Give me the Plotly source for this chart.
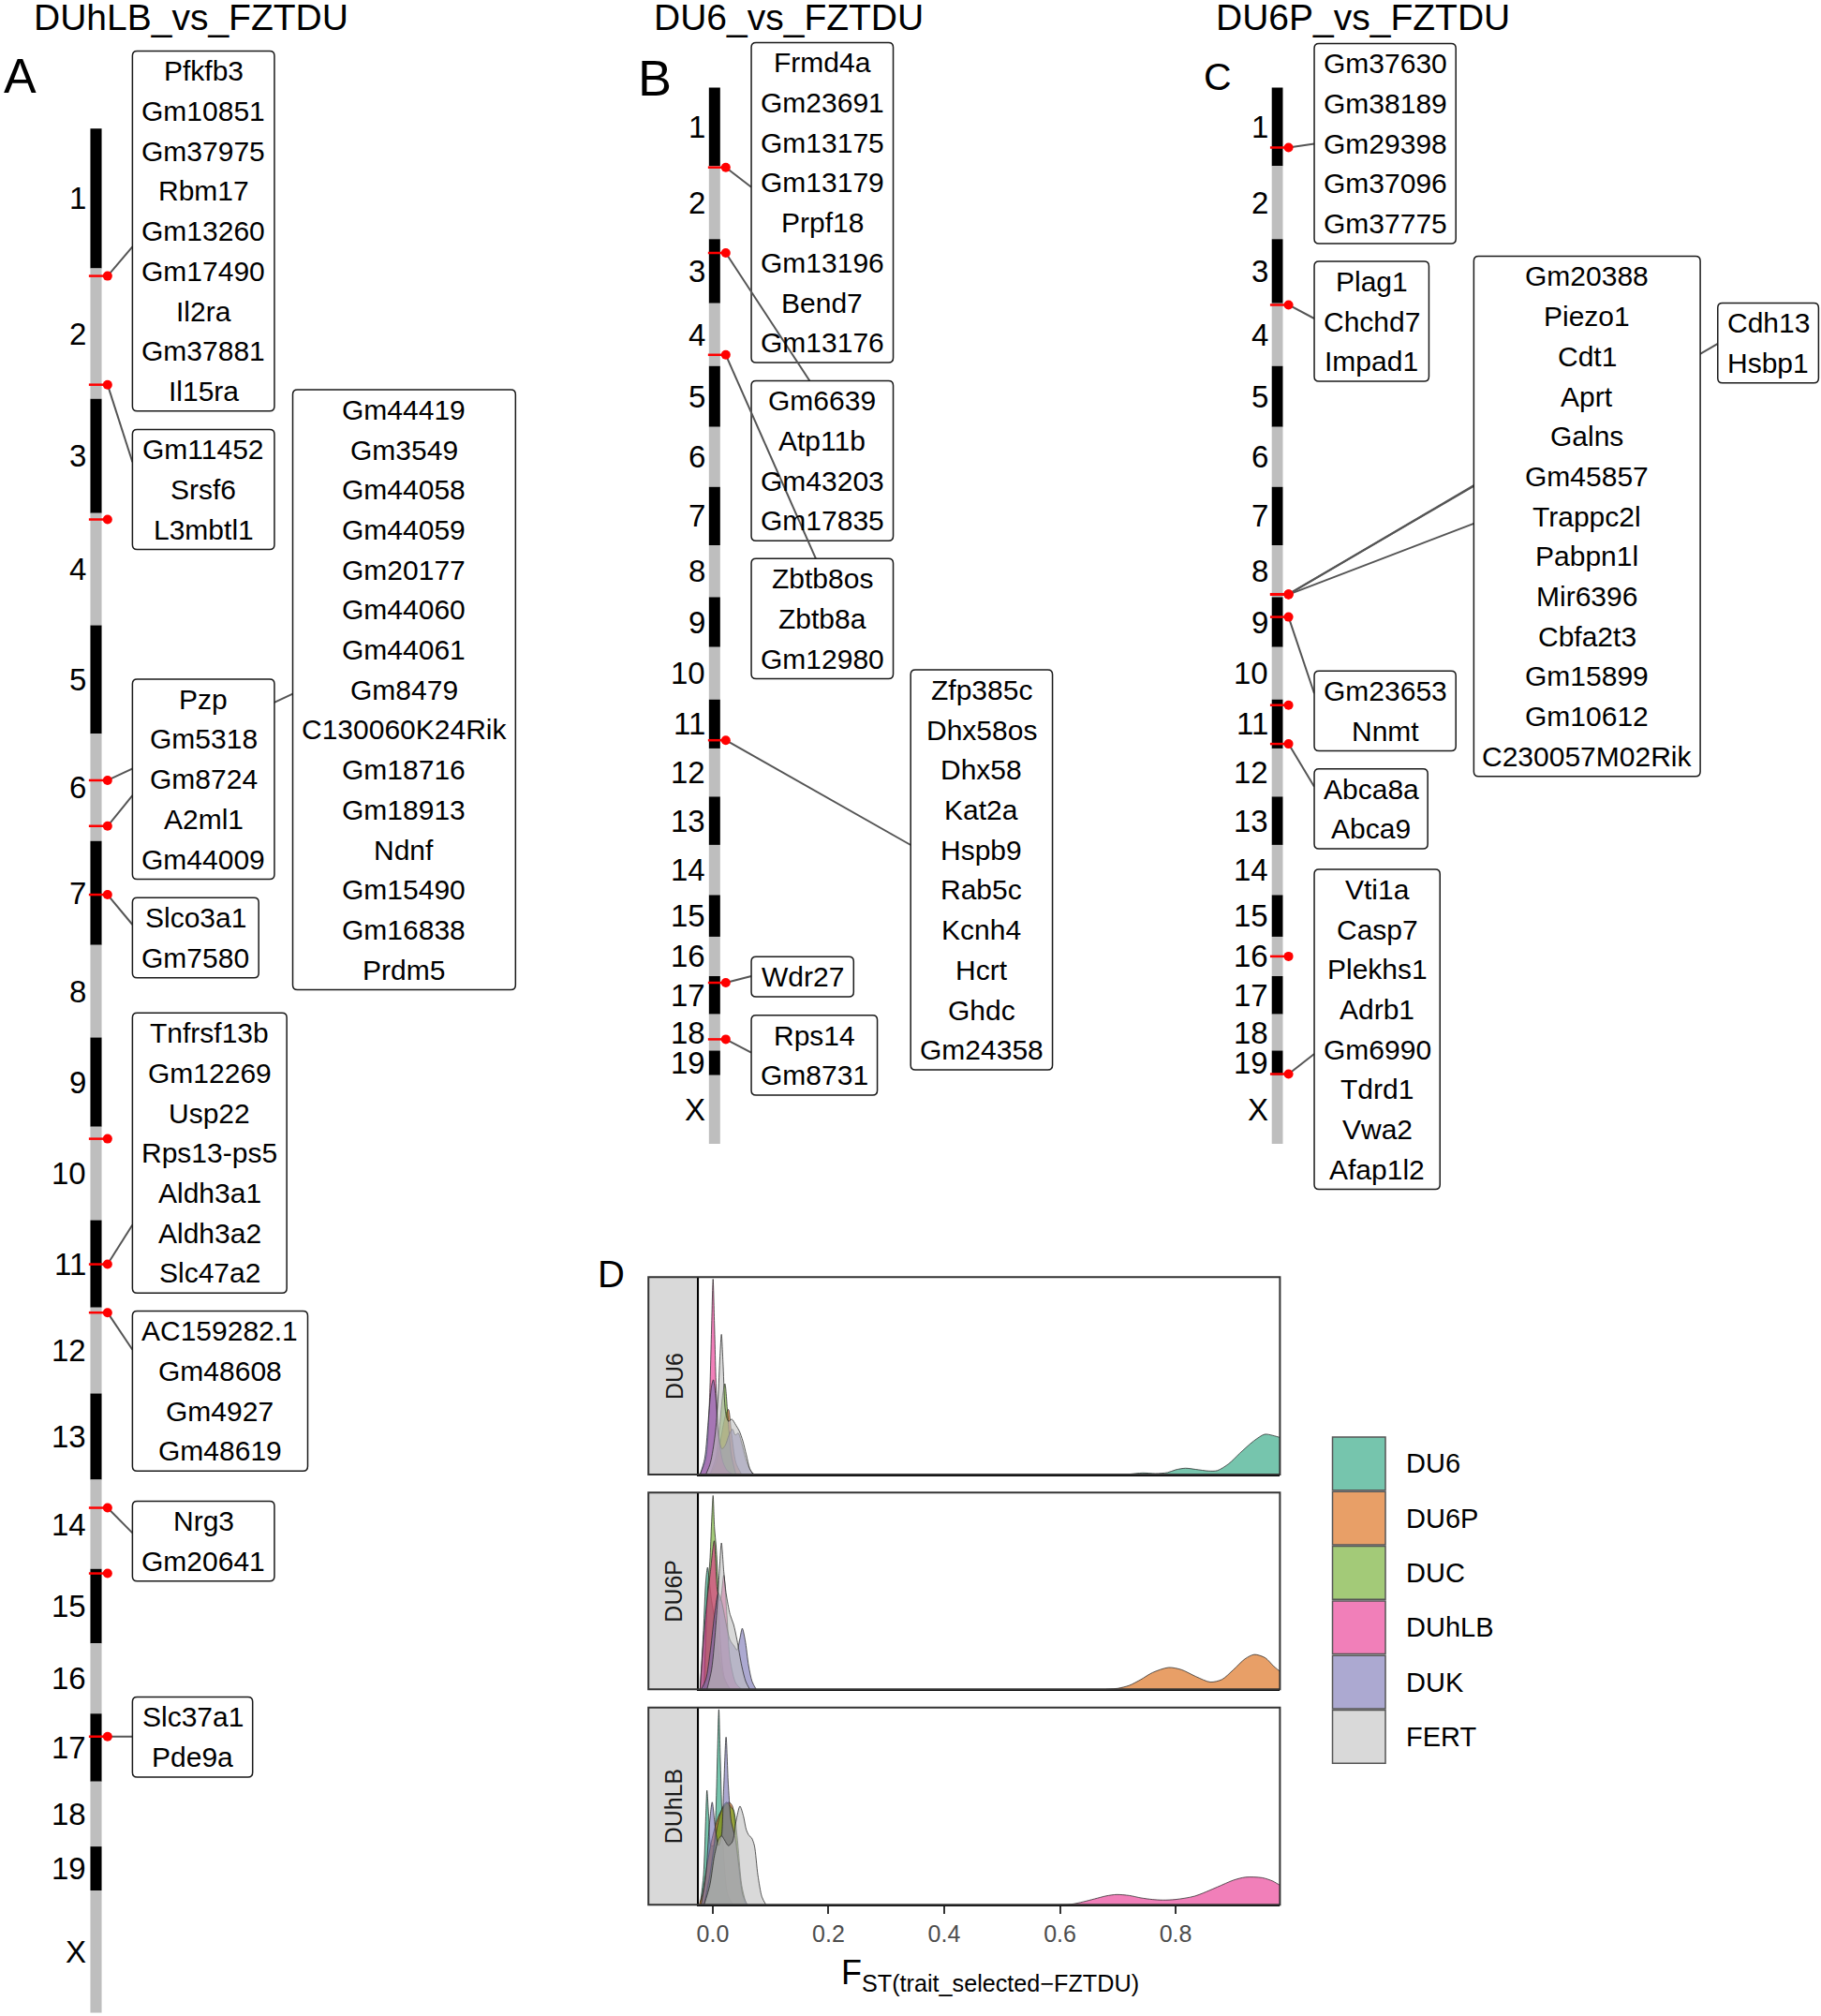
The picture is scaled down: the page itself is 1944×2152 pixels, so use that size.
import plotly.graph_objects as go

W, H = 1944, 2152

# ======================= DATA =======================
CHROM_NAMES = [str(i) for i in range(1, 20)] + ["X"]
CHROM_LEN_MB = [195.47, 182.11, 160.04, 156.51, 151.83, 149.74, 145.44, 129.40, 124.60, 130.69,
                122.08, 120.13, 120.42, 124.90, 104.04, 98.21, 94.99, 90.70, 61.43, 171.03]

# Panel A  DUhLB_vs_FZTDU : selection signatures (chromosome, position in Mb)
A_MARK_CHR = ["2", "2", "4", "6", "6", "7", "10", "11", "12", "14", "15", "17"]
A_MARK_MB = [10.5, 162.5, 8.7, 65.0, 128.9, 75.1, 16.9, 61.6, 7.1, 39.4, 6.2, 32.0]
A_GENE_GROUPS = [
    ["Pfkfb3", "Gm10851", "Gm37975", "Rbm17", "Gm13260", "Gm17490", "Il2ra", "Gm37881", "Il15ra"],
    ["Gm11452", "Srsf6", "L3mbtl1"],
    ["Gm44419", "Gm3549", "Gm44058", "Gm44059", "Gm20177", "Gm44060", "Gm44061", "Gm8479",
     "C130060K24Rik", "Gm18716", "Gm18913", "Ndnf", "Gm15490", "Gm16838", "Prdm5"],
    ["Pzp", "Gm5318", "Gm8724", "A2ml1", "Gm44009"],
    ["Slco3a1", "Gm7580"],
    ["Tnfrsf13b", "Gm12269", "Usp22", "Rps13-ps5", "Aldh3a1", "Aldh3a2", "Slc47a2"],
    ["AC159282.1", "Gm48608", "Gm4927", "Gm48619"],
    ["Nrg3", "Gm20641"],
    ["Slc37a1", "Pde9a"],
]
A_GROUP_MARK = [[0], [1], [3], [4], [5], [7], [8], [9], [11]]

# Panel B  DU6_vs_FZTDU
B_MARK_CHR = ["2", "3", "4", "11", "17", "18"]
B_MARK_MB = [3.5, 34.7, 128.8, 101.6, 16.4, 62.5]
B_GENE_GROUPS = [
    ["Frmd4a", "Gm23691", "Gm13175", "Gm13179", "Prpf18", "Gm13196", "Bend7", "Gm13176"],
    ["Gm6639", "Atp11b", "Gm43203", "Gm17835"],
    ["Zbtb8os", "Zbtb8a", "Gm12980"],
    ["Zfp385c", "Dhx58os", "Dhx58", "Kat2a", "Hspb9", "Rab5c", "Kcnh4", "Hcrt", "Ghdc", "Gm24358"],
    ["Wdr27"],
    ["Rps14", "Gm8731"],
]
B_GROUP_MARK = [[0], [1], [2], [3], [4], [5]]

# Panel C  DU6P_vs_FZTDU
C_MARK_CHR = ["1", "4", "8", "8", "8", "9", "11", "11", "16", "19"]
C_MARK_MB = [149.5, 4.3, 121.9, 122.4, 122.9, 49.5, 14.0, 110.7, 48.9, 58.4]
C_GENE_GROUPS = [
    ["Gm37630", "Gm38189", "Gm29398", "Gm37096", "Gm37775"],
    ["Plag1", "Chchd7", "Impad1"],
    ["Cdh13", "Hsbp1"],
    ["Gm20388", "Piezo1", "Cdt1", "Aprt", "Galns", "Gm45857", "Trappc2l", "Pabpn1l", "Mir6396",
     "Cbfa2t3", "Gm15899", "Gm10612", "C230057M02Rik"],
    ["Gm23653", "Nnmt"],
    ["Abca8a", "Abca9"],
    ["Vti1a", "Casp7", "Plekhs1", "Adrb1", "Gm6990", "Tdrd1", "Vwa2", "Afap1l2"],
]
C_GROUP_MARK = [[0], [1], [2], [3, 4], [5], [7], [9]]

# Panel D  FST density per facet (x = FST, y = relative density)
GROUPS = ["DU6", "DU6P", "DUC", "DUhLB", "DUK", "FERT"]
FACETS = ["DU6", "DU6P", "DUhLB"]

F1_DU6_X = [0.70, 0.72, 0.743, 0.765, 0.786, 0.80, 0.817, 0.835, 0.857, 0.872, 0.892, 0.911, 0.935, 0.954, 0.968, 0.98, 0.99]
F1_DU6_Y = [0.0, 0.002, 0.008, 0.005, 0.01, 0.024, 0.032, 0.026, 0.018, 0.02, 0.055, 0.108, 0.17, 0.204, 0.198, 0.188, 0.18]
F1_DU6P_X = [-0.005, 0.005, 0.015, 0.022, 0.027, 0.032, 0.04, 0.05]
F1_DU6P_Y = [0, 0.05, 0.2, 0.3, 0.33, 0.22, 0.06, 0]
F1_DUC_X = [-0.005, 0.005, 0.012, 0.017, 0.021, 0.026, 0.032, 0.04]
F1_DUC_Y = [0, 0.08, 0.25, 0.4, 0.46, 0.3, 0.1, 0]
F1_DUHLB_X = [-0.022, -0.012, -0.006, -0.002, 0.0005, 0.003, 0.007, 0.012, 0.018, 0.025, 0.035]
F1_DUHLB_Y = [0, 0.08, 0.35, 0.75, 0.99, 0.75, 0.35, 0.15, 0.06, 0.02, 0]
F1_DUK_X = [-0.022, -0.014, -0.007, -0.002, 0.001, 0.005, 0.01, 0.016, 0.022, 0.028, 0.034, 0.039, 0.044, 0.05, 0.057, 0.065, 0.072]
F1_DUK_Y = [0, 0.08, 0.3, 0.45, 0.48, 0.4, 0.2, 0.13, 0.15, 0.2, 0.23, 0.2, 0.21, 0.16, 0.08, 0.02, 0]
F1_FERT_X = [-0.012, -0.004, 0.004, 0.009, 0.0125, 0.015, 0.018, 0.022, 0.027, 0.033, 0.04, 0.046, 0.052, 0.058, 0.064, 0.07]
F1_FERT_Y = [0, 0.06, 0.2, 0.38, 0.6, 0.71, 0.55, 0.32, 0.27, 0.28, 0.25, 0.22, 0.17, 0.1, 0.03, 0]

F2_DU6_X = [-0.022, -0.016, -0.012, -0.009, -0.006, -0.002, 0.004, 0.012, 0.02, 0.03]
F2_DU6_Y = [0, 0.3, 0.55, 0.62, 0.55, 0.45, 0.35, 0.15, 0.05, 0]
F2_DU6P_X = [0.68, 0.70, 0.72, 0.74, 0.76, 0.788, 0.81, 0.835, 0.86, 0.88, 0.90, 0.92, 0.936, 0.955, 0.97, 0.98, 0.99]
F2_DU6P_Y = [0, 0.005, 0.02, 0.05, 0.085, 0.111, 0.1, 0.065, 0.037, 0.05, 0.1, 0.155, 0.177, 0.16, 0.116, 0.092, 0.07]
F2_DUC_X = [-0.015, -0.009, -0.005, -0.002, 0.0005, 0.003, 0.006, 0.009, 0.013, 0.02, 0.03]
F2_DUC_Y = [0, 0.5, 0.65, 0.85, 0.985, 0.82, 0.72, 0.55, 0.25, 0.06, 0]
F2_DUHLB_X = [-0.022, -0.016, -0.01, -0.004, 0.0025, 0.008, 0.013, 0.019, 0.024, 0.03, 0.04, 0.05]
F2_DUHLB_Y = [0, 0.25, 0.45, 0.6, 0.755, 0.5, 0.45, 0.58, 0.4, 0.15, 0.03, 0]
F2_DUK_X = [-0.02, -0.012, -0.004, 0.004, 0.0096, 0.015, 0.022, 0.03, 0.037, 0.042, 0.047, 0.051, 0.056, 0.062, 0.068, 0.075]
F2_DUK_Y = [0, 0.05, 0.2, 0.4, 0.49, 0.45, 0.35, 0.25, 0.22, 0.2, 0.26, 0.31, 0.25, 0.12, 0.04, 0]
F2_FERT_X = [-0.01, -0.002, 0.006, 0.011, 0.015, 0.019, 0.023, 0.03, 0.036, 0.042, 0.05, 0.057, 0.064]
F2_FERT_Y = [0, 0.1, 0.35, 0.58, 0.744, 0.6, 0.49, 0.38, 0.33, 0.25, 0.12, 0.04, 0]

F3_DU6_X = [-0.022, -0.016, -0.012, -0.01, -0.007, -0.003, 0.001, 0.005, 0.008, 0.0105, 0.013, 0.016, 0.02, 0.026, 0.035]
F3_DU6_Y = [0, 0.15, 0.45, 0.58, 0.45, 0.3, 0.3, 0.45, 0.75, 0.99, 0.75, 0.45, 0.2, 0.05, 0]
F3_DU6P_X = [-0.024, -0.018, -0.01, 0.0, 0.01, 0.02, 0.028, 0.034, 0.04, 0.048, 0.056]
F3_DU6P_Y = [0, 0.05, 0.2, 0.35, 0.45, 0.5, 0.52, 0.5, 0.35, 0.1, 0]
F3_DUC_X = [-0.015, -0.005, 0.005, 0.012, 0.018, 0.024, 0.03, 0.036, 0.042, 0.05, 0.058]
F3_DUC_Y = [0, 0.15, 0.35, 0.45, 0.5, 0.52, 0.5, 0.48, 0.35, 0.1, 0]
F3_DUHLB_X = [0.6, 0.62, 0.64, 0.66, 0.68, 0.698, 0.72, 0.74, 0.76, 0.778, 0.80, 0.833, 0.872, 0.90, 0.921, 0.95, 0.968, 0.98, 0.99]
F3_DUHLB_Y = [0, 0.003, 0.015, 0.03, 0.045, 0.052, 0.047, 0.035, 0.027, 0.024, 0.027, 0.044, 0.09, 0.125, 0.14, 0.137, 0.12, 0.1, 0.09]
F3_DUK_X = [-0.02, -0.012, -0.006, -0.001, 0.004, 0.01, 0.015, 0.019, 0.023, 0.027, 0.032, 0.038, 0.045, 0.052, 0.06]
F3_DUK_Y = [0, 0.15, 0.4, 0.52, 0.4, 0.3, 0.35, 0.6, 0.85, 0.6, 0.42, 0.35, 0.2, 0.05, 0]
F3_FERT_X = [-0.015, -0.005, 0.003, 0.01, 0.015, 0.02, 0.027, 0.034, 0.04, 0.047, 0.053, 0.058, 0.063, 0.067, 0.072, 0.078, 0.085, 0.092]
F3_FERT_Y = [0, 0.1, 0.25, 0.33, 0.35, 0.33, 0.3, 0.32, 0.42, 0.5, 0.45, 0.38, 0.35, 0.34, 0.3, 0.15, 0.04, 0]

X_TICKS = [0.0, 0.2, 0.4, 0.6, 0.8]
X_TICK_LABELS = ["0.0", "0.2", "0.4", "0.6", "0.8"]

# ======================= STYLE / LAYOUT =======================
FONT = "Liberation Sans, Arial, Helvetica, sans-serif"
GROUP_FILL = ["rgba(27,158,119,0.6)", "rgba(217,95,2,0.6)", "rgba(102,166,30,0.6)",
              "rgba(231,41,138,0.6)", "rgba(117,112,179,0.6)", "rgba(191,191,191,0.6)"]
PITCH = 42.7          # label line pitch (px)
GENE_FONT = 30
CHR_FONT = 33

# ideogram pixel rows (top, bottom) and columns
A_ROWS = (137.3, 2148.6)
BC_ROWS = (93.5, 1221.0)
A_COL = dict(center=99.65, width=12.1, red0=92.0, dot=112.0, lab=91.0)
B_COL = dict(center=761.0, width=12.0, red0=754.0, dot=773.0, lab=753.3)
C_COL = dict(center=1362.7, width=11.8, red0=1355.0, dot=1374.7, lab=1355.0)

# label boxes: (left, right, top, [connector end points]) in px
A_BOX = [
    (138.6, 290.4, 54.5, [(138.6, 263.4)]),
    (138.6, 290.4, 458.5, [(138.6, 493.3)]),
    (310.0, 548.2, 416.0, [(310.0, 740.7)]),
    (138.6, 290.4, 724.9, [(138.6, 849.2)]),
    (138.6, 273.6, 958.3, [(138.6, 987.0)]),
    (138.6, 303.6, 1081.3, [(138.6, 1307.5)]),
    (138.6, 326.0, 1399.5, [(138.6, 1440.8)]),
    (138.6, 290.4, 1602.4, [(138.6, 1636.4)]),
    (138.6, 267.1, 1811.5, [(138.6, 1853.7)]),
]
B_BOX = [
    (800.3, 952.0, 45.5, [(800.3, 199.7)]),
    (800.3, 952.0, 406.5, [(862.7, 406.5)]),
    (800.3, 952.0, 596.3, [(869.3, 596.3)]),
    (970.7, 1122.3, 715.1, [(970.7, 902.0)]),
    (800.3, 909.7, 1021.2, [(800.3, 1042.0)]),
    (800.3, 935.0, 1083.7, [(800.3, 1123.7)]),
]
C_BOX = [
    (1402.2, 1553.6, 46.4, [(1402.2, 153.4)]),
    (1402.2, 1524.8, 279.0, [(1402.2, 340.0)]),
    (1833.6, 1941.4, 323.4, [(1833.6, 366.9)]),
    (1572.8, 1814.9, 273.6, [(1572.8, 518.2), (1572.8, 558.9)]),
    (1402.2, 1553.6, 716.2, [(1402.2, 740.2)]),
    (1402.2, 1523.5, 820.7, [(1402.2, 839.7)]),
    (1402.2, 1536.6, 928.0, [(1402.2, 1125.0)]),
]

# panel D geometry (px)
D_STRIP_X = (690.3, 744.6)
D_PLOT_X = (744.6, 1365.5)
D_FACET_Y = [(1363.3, 1574.0), (1593.3, 1803.3), (1822.7, 2033.3)]
D_XRANGE = [-0.0234, 0.9803]

# ======================= BUILD =======================
TOTAL = sum(CHROM_LEN_MB)
CHROM_START = []
acc = 0.0
for L in CHROM_LEN_MB:
    CHROM_START.append(acc)
    acc += L
CHROM_MID = [s + L / 2 for s, L in zip(CHROM_START, CHROM_LEN_MB)]
START_OF = dict(zip(CHROM_NAMES, CHROM_START))
BAND_COLORS = ["#000000" if i % 2 == 0 else "#BEBEBE" for i in range(len(CHROM_NAMES))]
BAND_COLORS[-1] = "#BEBEBE"


def make_units(rows):
    s = (rows[1] - rows[0]) / TOTAL
    rng = [(H - rows[0]) / s, -rows[0] / s]
    return (lambda py: (py - rows[0]) / s), rng, s


a_units, A_RANGE, A_S = make_units(A_ROWS)
bc_units, BC_RANGE, BC_S = make_units(BC_ROWS)


def xp(px):
    return px / W


def yp(py):
    return 1 - py / H


fig = go.Figure()
shapes = []
annots = []


def add_panel(col, yaxis, yref, units, s, mchr, mmb, groups, gmark, boxes):
    fig.add_trace(go.Bar(
        x=[col["center"]] * len(CHROM_LEN_MB), y=CHROM_LEN_MB, base=CHROM_START,
        width=[col["width"]] * len(CHROM_LEN_MB),
        marker=dict(color=BAND_COLORS, line=dict(width=0)),
        xaxis="x", yaxis=yaxis, showlegend=False, hoverinfo="skip"))
    for name, mid in zip(CHROM_NAMES, CHROM_MID):
        annots.append(dict(x=col["lab"], y=mid, xref="x", yref=yref, text=name,
                           showarrow=False, xanchor="right", yanchor="middle",
                           font=dict(family=FONT, size=CHR_FONT, color="#000000")))
    cum = [START_OF[c] + p for c, p in zip(mchr, mmb)]
    lx, ly = [], []
    for m in cum:
        lx += [col["red0"], col["dot"], None]
        ly += [m, m, None]
    fig.add_trace(go.Scatter(x=lx, y=ly, mode="lines", line=dict(color="#FF0000", width=2.5),
                             xaxis="x", yaxis=yaxis, showlegend=False, hoverinfo="skip"))
    fig.add_trace(go.Scatter(x=[col["dot"]] * len(cum), y=cum, mode="markers",
                             marker=dict(color="#FF0000", size=10),
                             xaxis="x", yaxis=yaxis, showlegend=False, hoverinfo="skip"))
    for genes, marks, (x0, x1, top, ends) in zip(groups, gmark, boxes):
        for mi, (ex, ey) in zip(marks, ends):
            shapes.append(dict(type="line", xref="x", yref=yref, x0=col["dot"], y0=cum[mi],
                               x1=ex, y1=units(ey), line=dict(color="#555555", width=2),
                               layer="below"))
        bot = top + len(genes) * PITCH
        r = 5.0
        yt, yb = units(top), units(bot)
        yt_r, yb_r = units(top + r), units(bot - r)
        path = (f"M {x0 + r},{yt} L {x1 - r},{yt} Q {x1},{yt} {x1},{yt_r} L {x1},{yb_r} "
                f"Q {x1},{yb} {x1 - r},{yb} L {x0 + r},{yb} Q {x0},{yb} {x0},{yb_r} "
                f"L {x0},{yt_r} Q {x0},{yt} {x0 + r},{yt} Z")
        shapes.append(dict(type="path", xref="x", yref=yref, path=path, fillcolor="white",
                           line=dict(color="#1A1A1A", width=1.5), layer="below"))
        for i, g in enumerate(genes):
            annots.append(dict(x=(x0 + x1) / 2, y=units(top + (i + 0.5) * PITCH),
                               xref="x", yref=yref, text=g, showarrow=False,
                               xanchor="center", yanchor="middle",
                               font=dict(family=FONT, size=GENE_FONT, color="#000000")))


add_panel(A_COL, "y", "y", a_units, A_S, A_MARK_CHR, A_MARK_MB, A_GENE_GROUPS, A_GROUP_MARK, A_BOX)
add_panel(B_COL, "y2", "y2", bc_units, BC_S, B_MARK_CHR, B_MARK_MB, B_GENE_GROUPS, B_GROUP_MARK, B_BOX)
add_panel(C_COL, "y2", "y2", bc_units, BC_S, C_MARK_CHR, C_MARK_MB, C_GENE_GROUPS, C_GROUP_MARK, C_BOX)

# titles & panel letters
for txt, cx in [("DUhLB_vs_FZTDU", 201.8), ("DU6_vs_FZTDU", 840.0), ("DU6P_vs_FZTDU", 1454.0)]:
    annots.append(dict(x=xp(cx), y=yp(18), xref="paper", yref="paper", text=txt, showarrow=False,
                       xanchor="center", yanchor="middle",
                       font=dict(family=FONT, size=39, color="#000000")))
for txt, cx, cy, fs in [("A", 18.8, 81.5, 52), ("B", 696.7, 83.0, 54), ("C", 1298.8, 82.5, 41),
                        ("D", 650.3, 1360.0, 40)]:
    annots.append(dict(x=xp(cx), y=yp(cy), xref="paper", yref="paper", text=txt, showarrow=False,
                       xanchor="center", yanchor="middle",
                       font=dict(family=FONT, size=fs, color="#000000")))

# ---------- panel D ----------
DENS = {
    0: [(F1_DU6_X, F1_DU6_Y), (F1_DU6P_X, F1_DU6P_Y), (F1_DUC_X, F1_DUC_Y),
        (F1_DUHLB_X, F1_DUHLB_Y), (F1_DUK_X, F1_DUK_Y), (F1_FERT_X, F1_FERT_Y)],
    1: [(F2_DU6_X, F2_DU6_Y), (F2_DU6P_X, F2_DU6P_Y), (F2_DUC_X, F2_DUC_Y),
        (F2_DUHLB_X, F2_DUHLB_Y), (F2_DUK_X, F2_DUK_Y), (F2_FERT_X, F2_FERT_Y)],
    2: [(F3_DU6_X, F3_DU6_Y), (F3_DU6P_X, F3_DU6P_Y), (F3_DUC_X, F3_DUC_Y),
        (F3_DUHLB_X, F3_DUHLB_Y), (F3_DUK_X, F3_DUK_Y), (F3_FERT_X, F3_FERT_Y)],
}
layout_axes = {}
for k, facet in enumerate(FACETS):
    xa = f"x{k + 2}"
    ya = f"y{k + 3}"
    top, bot = D_FACET_Y[k]
    for gi, (gx, gy) in enumerate(DENS[k]):
        fig.add_trace(go.Scatter(x=gx, y=gy, mode="lines", fill="tozeroy",
                                 fillcolor=GROUP_FILL[gi],
                                 line=dict(color="rgba(40,40,40,0.75)", width=1, shape="spline",
                                           smoothing=0.8),
                                 xaxis=xa, yaxis=ya, showlegend=False, hoverinfo="skip"))
    last = (k == len(FACETS) - 1)
    layout_axes[f"xaxis{k + 2}"] = dict(
        domain=[xp(D_PLOT_X[0]), xp(D_PLOT_X[1])], range=D_XRANGE, anchor=ya,
        showline=True, linecolor="#000000", linewidth=2.2, showgrid=False, zeroline=False,
        ticks="outside" if last else "", ticklen=8, tickwidth=2, tickcolor="#333333",
        tickvals=X_TICKS, ticktext=X_TICK_LABELS, showticklabels=last,
        tickfont=dict(family=FONT, size=25, color="#4D4D4D"), fixedrange=True)
    layout_axes[f"yaxis{k + 3}"] = dict(
        domain=[yp(bot), yp(top)], range=[0, 1.0], anchor=xa,
        showline=True, linecolor="#000000", linewidth=2.2, showgrid=False, zeroline=False,
        showticklabels=False, ticks="", fixedrange=True)
    # strip + border
    shapes.append(dict(type="rect", xref="paper", yref="paper", x0=xp(D_STRIP_X[0]), x1=xp(D_STRIP_X[1]),
                       y0=yp(bot), y1=yp(top), fillcolor="#D9D9D9", line=dict(width=0), layer="below"))
    shapes.append(dict(type="rect", xref="paper", yref="paper", x0=xp(D_STRIP_X[0]), x1=xp(D_PLOT_X[1]),
                       y0=yp(bot), y1=yp(top), fillcolor="rgba(0,0,0,0)",
                       line=dict(color="#333333", width=2), layer="above"))
    annots.append(dict(x=xp((D_STRIP_X[0] + D_STRIP_X[1]) / 2), y=yp((top + bot) / 2),
                       xref="paper", yref="paper", text=facet, textangle=-90, showarrow=False,
                       xanchor="center", yanchor="middle",
                       font=dict(family=FONT, size=25, color="#1A1A1A")))

# x title
annots.append(dict(x=xp(1056), y=yp(2108), xref="paper", yref="paper",
                   text="F<sub>ST(trait_selected\u2212FZTDU)</sub>", showarrow=False,
                   xanchor="center", yanchor="middle",
                   font=dict(family=FONT, size=36, color="#000000")))

# legend
LEG_X = (1421.7, 1478.3)
LEG_TOP0, LEG_STEP, LEG_H = 1534.0, 58.3, 56.7
for gi, g in enumerate(GROUPS):
    t = LEG_TOP0 + gi * LEG_STEP
    shapes.append(dict(type="rect", xref="paper", yref="paper", x0=xp(LEG_X[0]), x1=xp(LEG_X[1]),
                       y0=yp(t + LEG_H), y1=yp(t), fillcolor=GROUP_FILL[gi],
                       line=dict(color="#555555", width=1.5), layer="above"))
    annots.append(dict(x=xp(1498.3), y=yp(t + LEG_H / 2), xref="paper", yref="paper", text=g,
                       showarrow=False, xanchor="left", yanchor="middle",
                       font=dict(family=FONT, size=29, color="#000000")))

fig.update_layout(
    width=W, height=H, margin=dict(l=0, r=0, t=0, b=0),
    paper_bgcolor="white", plot_bgcolor="rgba(0,0,0,0)",
    barmode="overlay", showlegend=False, hovermode=False,
    xaxis=dict(domain=[0, 1], range=[0, W], visible=False, fixedrange=True),
    yaxis=dict(domain=[0, 1], range=A_RANGE, visible=False, fixedrange=True),
    yaxis2=dict(domain=[0, 1], range=BC_RANGE, visible=False, overlaying="y", anchor="x",
                fixedrange=True),
    shapes=shapes, annotations=annots,
    **layout_axes,
)

fig.write_html("out.html", config={"displayModeBar": False},
               post_script="document.body.style.margin='0px';document.body.style.padding='0px';")
